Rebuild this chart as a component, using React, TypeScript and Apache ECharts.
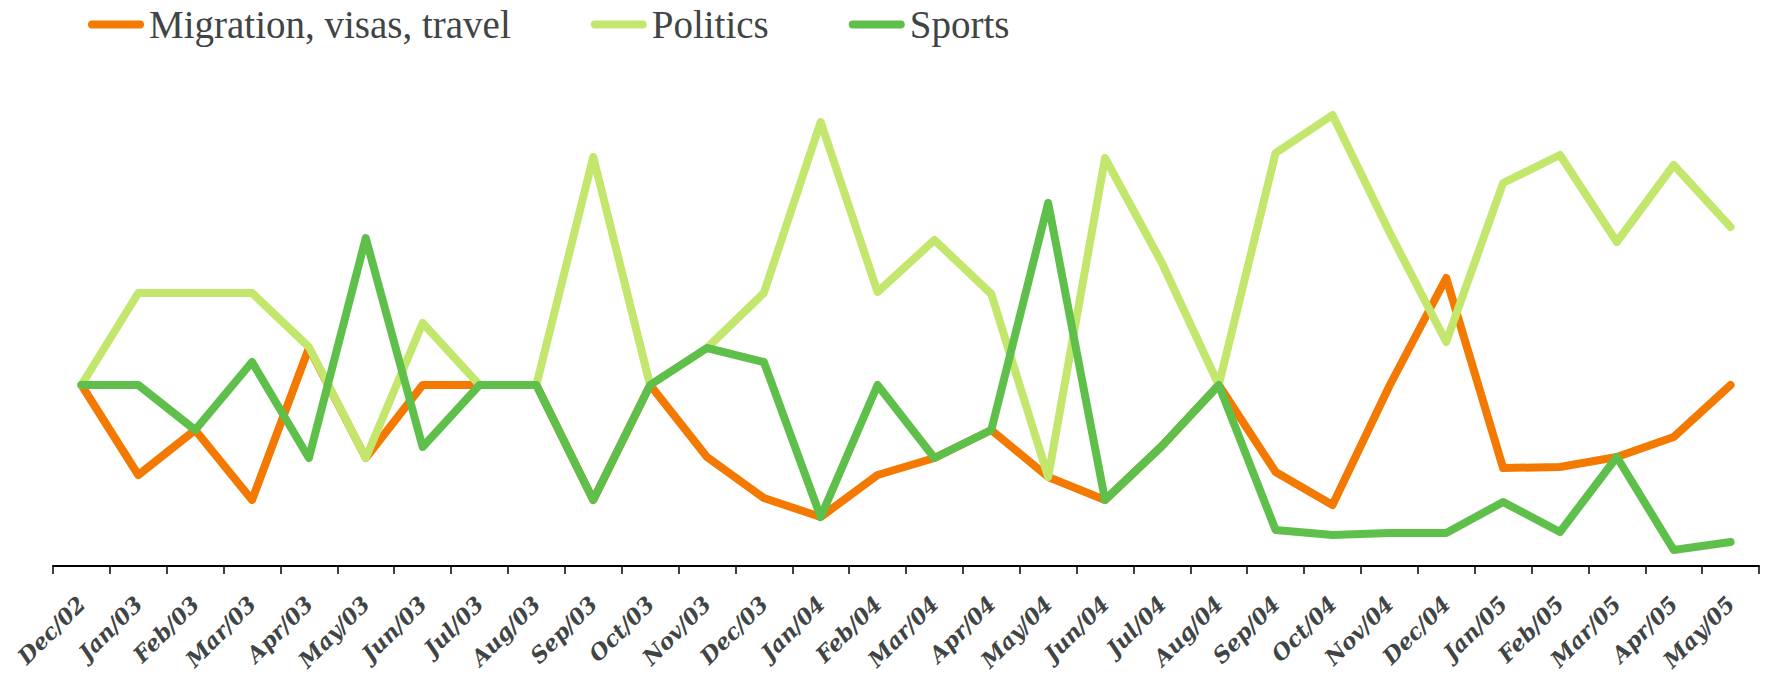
import React, { useEffect, useRef } from "react";
import * as echarts from "echarts";

const months: string[] = [
  "Dec/02", "Jan/03", "Feb/03", "Mar/03", "Apr/03", "May/03", "Jun/03", "Jul/03", "Aug/03", "Sep/03",
  "Oct/03", "Nov/03", "Dec/03", "Jan/04", "Feb/04", "Mar/04", "Apr/04", "May/04", "Jun/04", "Jul/04",
  "Aug/04", "Sep/04", "Oct/04", "Nov/04", "Dec/04", "Jan/05", "Feb/05", "Mar/05", "Apr/05", "May/05",
];

const migration: number[] = [
  181, 91, 136, 66, 218, 108, 181, 181, 181, 66,
  181, 109, 68, 49, 91, 108, 136, 89, 66, 120,
  181, 94, 61, 180, 288, 98, 99, 109, 129, 181,
];

const politics: number[] = [
  181, 273, 273, 273, 219, 108, 243, 181, 181, 409,
  181, 218, 273, 444, 274, 326, 272, 89, 408, 303,
  181, 413, 451, 334, 224, 383, 411, 324, 401, 339,
];

const sports: number[] = [
  181, 181, 136, 204, 108, 328, 119, 181, 181, 66,
  181, 218, 204, 49, 181, 108, 136, 363, 66, 120,
  181, 36, 31, 33, 33, 64, 34, 109, 16, 24,
];

const seriesNames: string[] = ["Migration, visas, travel", "Politics", "Sports"];
const seriesColors: string[] = ["#F47900", "#C3E66C", "#5EC04B"];

const capsule = "path://M4,0 L52,0 A4,4 0 0 1 52,8 L4,8 A4,4 0 0 1 4,0 Z";

export default function App() {
  const ref = useRef<HTMLDivElement>(null);
  useEffect(() => {
    if (!ref.current) return;
    const chart = echarts.init(ref.current, null, { renderer: "svg" });
    const datasets = [migration, politics, sports];
    chart.setOption({
      animation: false,
      backgroundColor: "#ffffff",
      grid: { left: 53, right: 6, top: 66, bottom: 109, containLabel: false, outerBoundsMode: "none" },
      legend: {
        left: 83,
        top: 0,
        itemWidth: 56,
        itemHeight: 8,
        itemGap: 80,
        icon: capsule,
        textStyle: {
          fontFamily: "Liberation Serif",
          fontSize: 39,
          color: "#404444",
        },
        data: seriesNames,
      },
      xAxis: {
        type: "category",
        data: months,
        boundaryGap: true,
        axisLine: { lineStyle: { color: "#000000", width: 2 } },
        axisTick: { show: true, length: 8, lineStyle: { color: "#000000", width: 1.5 } },
        axisLabel: {
          rotate: 45,
          interval: 0,
          margin: 34,
          fontFamily: "DejaVu Serif",
          fontStyle: "italic",
          fontWeight: "bold",
          fontSize: 22,
          lineHeight: 22,
          color: "#404444",
        },
        splitLine: { show: false },
      },
      yAxis: {
        type: "value",
        min: 0,
        max: 500,
        show: false,
        splitLine: { show: false },
      },
      series: datasets.map((d, i) => ({
        name: seriesNames[i],
        type: "line",
        data: d,
        symbol: "none",
        color: seriesColors[i],
        lineStyle: { width: 8, color: seriesColors[i], cap: "round", join: "round" },
        itemStyle: { color: seriesColors[i] },
        z: 2 + i,
      })),
    });
    return () => chart.dispose();
  }, []);
  return (
    <div
      ref={ref}
      style={{ position: "fixed", left: 0, top: 0, width: "1765px", height: "675px" }}
    />
  );
}
